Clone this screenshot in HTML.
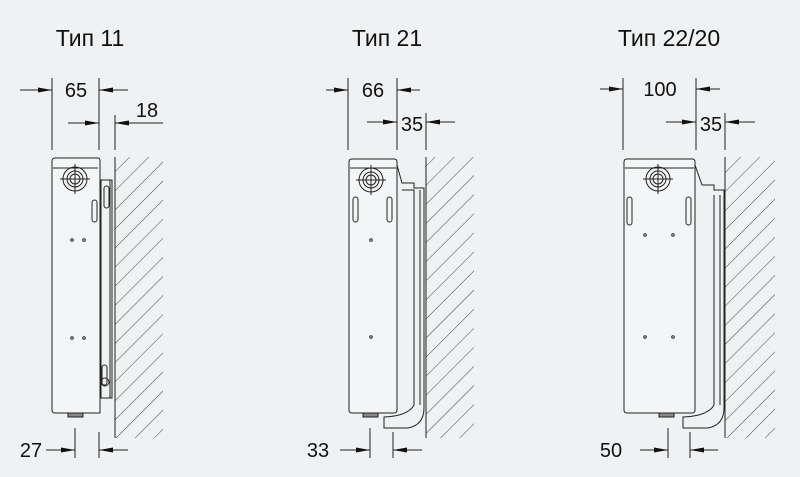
<!DOCTYPE html>
<html><head><meta charset="utf-8"><style>
html,body{margin:0;padding:0;background:#eff1f3;}
svg{display:block}
text{font-family:"Liberation Sans",sans-serif;fill:#111}
</style></head><body>
<svg width="800" height="477" viewBox="0 0 800 477" xmlns="http://www.w3.org/2000/svg">
<defs>
<pattern id="h" width="13.5" height="19" patternUnits="userSpaceOnUse" patternTransform="rotate(45)">
<line x1="0" y1="0" x2="0" y2="19" stroke="#444" stroke-width="1"/>
</pattern>
<marker id="a" markerWidth="14" markerHeight="8" refX="14" refY="4" orient="auto" markerUnits="userSpaceOnUse">
<path d="M0,1.5 L14,4 L0,6.5 z" fill="#111"/>
</marker>
</defs>
<rect width="800" height="477" fill="#eff1f3"/>

<text x="90" y="46" font-size="23" text-anchor="middle">Тип 11</text>
<text x="387" y="46" font-size="23" text-anchor="middle">Тип 21</text>
<text x="669" y="46" font-size="23" text-anchor="middle">Тип 22/20</text>

<g stroke="#222" stroke-width="1" fill="none">
<line x1="52" y1="78" x2="52" y2="150"/><line x1="99" y1="78" x2="99" y2="150"/><line x1="115" y1="115" x2="115" y2="150"/>
<line x1="20" y1="90" x2="52" y2="90" marker-end="url(#a)"/>
<line x1="128" y1="90" x2="99" y2="90" marker-end="url(#a)"/>
<line x1="68" y1="123" x2="99" y2="123" marker-end="url(#a)"/>
<line x1="163" y1="123" x2="115" y2="123" marker-end="url(#a)"/>
<line x1="75" y1="428" x2="75" y2="458"/><line x1="99" y1="432" x2="99" y2="458"/>
<line x1="46" y1="450" x2="75" y2="450" marker-end="url(#a)"/>
<line x1="128" y1="450" x2="99" y2="450" marker-end="url(#a)"/>
<rect x="115" y="157" width="48" height="281" fill="url(#h)" stroke="none"/>
<line x1="115" y1="157" x2="115" y2="438"/>
<path d="M55,158 H98 Q100,158 100,161 V413 H55 Q52,413 52,410 V161 Q52,158 55,158 Z" fill="#f4f5f6"/>
<line x1="53" y1="168" x2="98" y2="168"/>
<circle cx="75" cy="179" r="12"/><circle cx="75" cy="179" r="8"/><circle cx="75" cy="179" r="5"/>
<line x1="60" y1="179" x2="90" y2="179"/><line x1="75" y1="164" x2="75" y2="194"/>
<rect x="92" y="200" width="5" height="22" rx="2.5"/>
<path d="M101,180 H112 V398 H101 Z"/><line x1="110" y1="180" x2="110" y2="398"/>
<rect x="104" y="186" width="5" height="22" rx="2.5"/>
<circle cx="105" cy="382" r="4"/><rect x="102" y="365" width="5" height="20" rx="2.5"/>
<rect x="68" y="413" width="15" height="4" fill="#888"/>
<circle cx="72" cy="240" r="1.3"/><circle cx="84" cy="240" r="1.3"/>
<circle cx="72" cy="338" r="1.3"/><circle cx="84" cy="338" r="1.3"/>

<line x1="348" y1="78" x2="348" y2="150"/><line x1="397" y1="78" x2="397" y2="150"/><line x1="426" y1="113" x2="426" y2="150"/>
<line x1="326" y1="90" x2="348" y2="90" marker-end="url(#a)"/>
<line x1="420" y1="90" x2="397" y2="90" marker-end="url(#a)"/>
<line x1="367" y1="122" x2="397" y2="122" marker-end="url(#a)"/>
<line x1="455" y1="122" x2="426" y2="122" marker-end="url(#a)"/>
<line x1="370" y1="428" x2="370" y2="458"/><line x1="393" y1="432" x2="393" y2="458"/>
<line x1="340" y1="450" x2="370" y2="450" marker-end="url(#a)"/>
<line x1="422" y1="450" x2="393" y2="450" marker-end="url(#a)"/>
<rect x="426" y="157" width="48" height="281" fill="url(#h)" stroke="none"/>
<line x1="426" y1="157" x2="426" y2="438"/>
<path d="M352,159 H394 Q397,159 397,162 V410 Q397,413 394,413 H352 Q349,413 349,410 V162 Q349,159 352,159 Z" fill="#f4f5f6"/>
<line x1="350" y1="168" x2="396" y2="168"/>
<circle cx="371" cy="180" r="12"/><circle cx="371" cy="180" r="8"/><circle cx="371" cy="180" r="5"/>
<line x1="356" y1="180" x2="386" y2="180"/><line x1="371" y1="165" x2="371" y2="195"/>
<rect x="353" y="197" width="5" height="25" rx="2.5"/><rect x="387" y="197" width="5" height="25" rx="2.5"/>
<path d="M397,165 L402,183 H414 V188 H424 V408 Q424,425 408,428 H384 V417 Q408,416 414,405 V190 H402"/>
<line x1="420" y1="190" x2="420" y2="405"/>
<circle cx="371" cy="240" r="1.3"/><circle cx="371" cy="337" r="1.3"/>
<rect x="363" y="413" width="15" height="4" fill="#888"/>

<line x1="623" y1="78" x2="623" y2="150"/><line x1="696" y1="78" x2="696" y2="150"/><line x1="725" y1="113" x2="725" y2="150"/>
<line x1="600" y1="89" x2="623" y2="89" marker-end="url(#a)"/>
<line x1="720" y1="89" x2="696" y2="89" marker-end="url(#a)"/>
<line x1="666" y1="122" x2="696" y2="122" marker-end="url(#a)"/>
<line x1="755" y1="122" x2="725" y2="122" marker-end="url(#a)"/>
<line x1="668" y1="428" x2="668" y2="458"/><line x1="690" y1="432" x2="690" y2="458"/>
<line x1="640" y1="450" x2="668" y2="450" marker-end="url(#a)"/>
<line x1="718" y1="450" x2="690" y2="450" marker-end="url(#a)"/>
<rect x="725" y="157" width="50" height="281" fill="url(#h)" stroke="none"/>
<line x1="725" y1="157" x2="725" y2="438"/>
<path d="M627,159 H692 Q695,159 695,162 V410 Q695,413 692,413 H627 Q624,413 624,410 V162 Q624,159 627,159 Z" fill="#f4f5f6"/>
<line x1="625" y1="168" x2="694" y2="168"/>
<circle cx="658" cy="179" r="12"/><circle cx="658" cy="179" r="8"/><circle cx="658" cy="179" r="5"/>
<line x1="643" y1="179" x2="673" y2="179"/><line x1="658" y1="164" x2="658" y2="194"/>
<rect x="627" y="197" width="5" height="28" rx="2.5"/><rect x="686" y="197" width="5" height="28" rx="2.5"/>
<path d="M695,165 L702,185 H714 V190 H724 V408 Q724,425 708,428 H683 V417 Q708,416 714,405 V195"/>
<line x1="720" y1="195" x2="720" y2="405"/>
<circle cx="645" cy="235" r="1.3"/><circle cx="673" cy="235" r="1.3"/>
<circle cx="645" cy="337" r="1.3"/><circle cx="673" cy="337" r="1.3"/>
<rect x="659" y="413" width="15" height="4" fill="#888"/>
</g>

<g font-size="20">
<text x="76" y="97" text-anchor="middle">65</text>
<text x="147" y="117" text-anchor="middle">18</text>
<text x="31" y="457" text-anchor="middle">27</text>
<text x="373" y="97" text-anchor="middle">66</text>
<text x="412" y="131" text-anchor="middle">35</text>
<text x="318" y="457" text-anchor="middle">33</text>
<text x="660" y="96" text-anchor="middle">100</text>
<text x="711" y="131" text-anchor="middle">35</text>
<text x="611" y="457" text-anchor="middle">50</text>
</g>
</svg>
</body></html>
